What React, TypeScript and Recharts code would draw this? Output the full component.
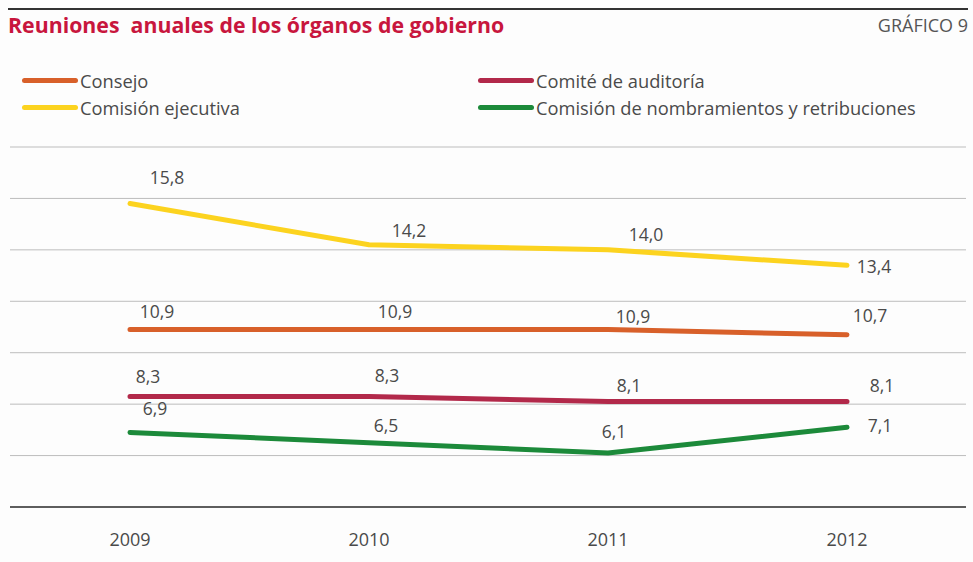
import React from 'react'
import { LineChart, Line, XAxis, YAxis, CartesianGrid, LabelList } from 'recharts'

const years = ['2009', '2010', '2011', '2012']
const consejo = [10.9, 10.9, 10.9, 10.7]
const comisionEjecutiva = [15.8, 14.2, 14.0, 13.4]
const comiteAuditoria = [8.3, 8.3, 8.1, 8.1]
const nombramientos = [6.9, 6.5, 6.1, 7.1]
const yTicks = [4, 6, 8, 10, 12, 14, 16, 18]

const data = years.map((year, i) => ({
  year,
  consejo: consejo[i],
  ejecutiva: comisionEjecutiva[i],
  auditoria: comiteAuditoria[i],
  nombramientos: nombramientos[i],
}))

const FONT = '"Open Sans", "DejaVu Sans", sans-serif'
const TEXT = '#4a4a4a'

// label offsets per series (dx, dy for each point)
const series = [
  { key: 'ejecutiva', name: 'Comisión ejecutiva', color: '#fcd31f', dx: [37, 40, 38, 27], dy: [-24, -12, -14, 3] },
  { key: 'consejo', name: 'Consejo', color: '#d8602a', dx: [27, 26, 25, 23], dy: [-16, -16, -11, -17] },
  { key: 'auditoria', name: 'Comité de auditoría', color: '#b2294a', dx: [18, 18, 21, 35], dy: [-18, -19, -14, -14] },
  { key: 'nombramientos', name: 'Comisión de nombramientos y retribuciones', color: '#1c8a3a', dx: [25, 17, 6, 33], dy: [-22, -15, -20, 0] },
]

const makeLabel = (dx: number[], dy: number[]) => (props: any) => {
  const { x, y, value, index } = props
  return (
    <text
      x={x + dx[index]}
      y={y + dy[index]}
      textAnchor="middle"
      dominantBaseline="middle"
      fontFamily={FONT}
      fontSize={17.5}
      fill={TEXT}
    >
      {value.toFixed(1).replace('.', ',')}
    </text>
  )
}

const LegendItem = ({ color, name }: { color: string; name: string }) => (
  <div style={{ display: 'flex', alignItems: 'center', height: 27 }}>
    <div style={{ width: 56, height: 5, borderRadius: 3, background: color }} />
    <span style={{ fontSize: 18.3, color: TEXT, marginLeft: 2 }}>{name}</span>
  </div>
)

export default function App() {
  return (
    <div
      style={{
        position: 'absolute',
        left: 0,
        top: 0,
        width: 973,
        height: 562,
        background: '#fdfdfd',
        fontFamily: FONT,
        overflow: 'hidden',
      }}
    >
      <div style={{ position: 'absolute', left: 8, top: 8, width: 960, height: 2, background: '#333' }} />
      <div
        style={{
          position: 'absolute',
          left: 8,
          top: 10,
          fontSize: 21.3,
          fontWeight: 700,
          color: '#c8163d',
          whiteSpace: 'pre',
        }}
      >
        {'Reuniones  anuales de los órganos de gobierno'}
      </div>
      <div style={{ position: 'absolute', right: 5, top: 13, fontSize: 18, color: '#555' }}>GRÁFICO 9</div>
      <div style={{ position: 'absolute', left: 22, top: 67 }}>
        <LegendItem color={series[1].color} name={series[1].name} />
        <LegendItem color={series[0].color} name={series[0].name} />
      </div>
      <div style={{ position: 'absolute', left: 478, top: 67 }}>
        <LegendItem color={series[2].color} name={series[2].name} />
        <LegendItem color={series[3].color} name={series[3].name} />
      </div>
      <div style={{ position: 'absolute', left: 0, top: 0 }}>
        <LineChart width={973} height={562} data={data} margin={{ top: 147, right: 7, bottom: 25, left: 10 }}>
          <CartesianGrid vertical={false} stroke="#bdbdbd" strokeWidth={1} />
          <XAxis
            dataKey="year"
            height={30}
            padding={{ left: 120, right: 119 }}
            tickLine={false}
            axisLine={{ stroke: '#333', strokeWidth: 1.5 }}
            tickMargin={20}
            tick={{ fill: TEXT, fontSize: 18, fontFamily: FONT }}
          />
          <YAxis hide domain={[4, 18]} ticks={yTicks} />
          {series.map((s) => (
            <Line
              key={s.key}
              dataKey={s.key}
              name={s.name}
              stroke={s.color}
              strokeWidth={5}
              strokeLinecap="round"
              strokeLinejoin="round"
              type="linear"
              dot={false}
              isAnimationActive={false}
            >
              <LabelList dataKey={s.key} content={makeLabel(s.dx, s.dy)} />
            </Line>
          ))}
        </LineChart>
      </div>
    </div>
  )
}
